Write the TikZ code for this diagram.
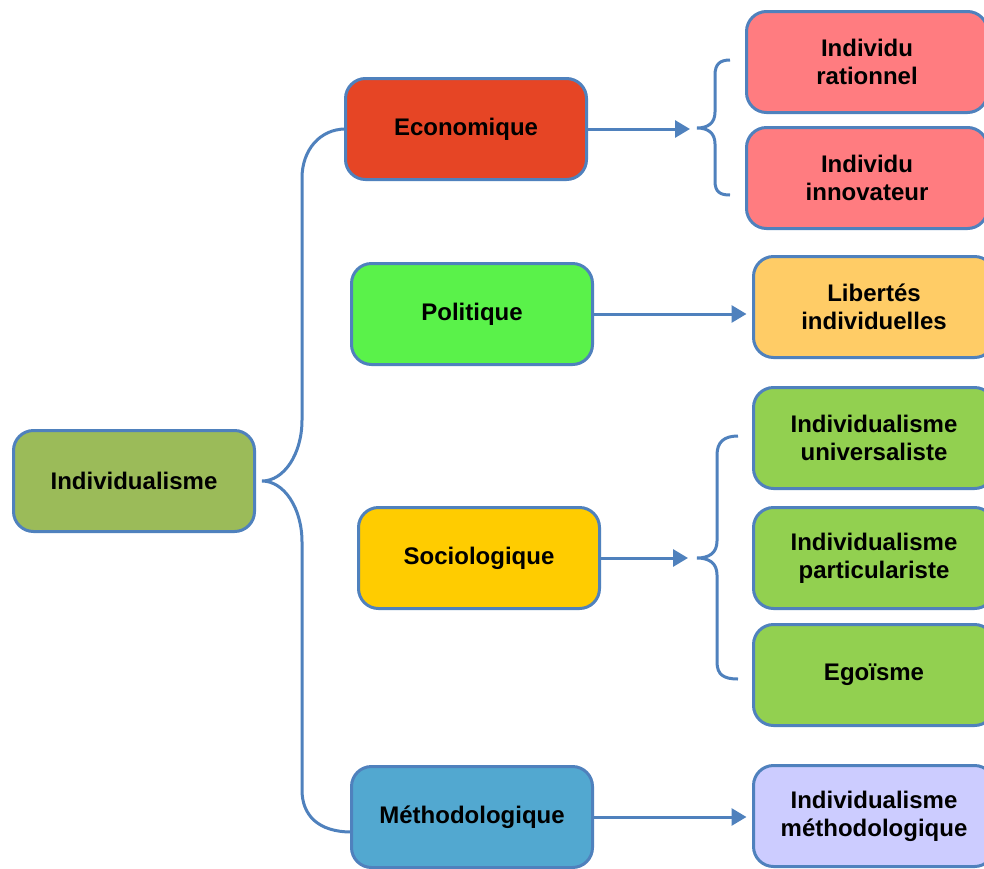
\documentclass[tikz,border=0pt]{standalone}
\usepackage{fontspec}
\setmainfont{Liberation Sans}
\usetikzlibrary{arrows.meta}
\definecolor{edgeblue}{HTML}{4F81BD}
\definecolor{cInd}{HTML}{9BBB59}
\definecolor{cEco}{HTML}{E64525}
\definecolor{cPol}{HTML}{5AF24A}
\definecolor{cSoc}{HTML}{FFCC00}
\definecolor{cMet}{HTML}{52A8D0}
\definecolor{cRed}{HTML}{FF7C80}
\definecolor{cLib}{HTML}{FFCC66}
\definecolor{cGreen}{HTML}{92D050}
\definecolor{cLav}{HTML}{CCCCFF}
\tikzset{
  box/.style={draw=edgeblue, line width=3pt, rounded corners=20pt,
    minimum width=241pt, minimum height=101pt, align=center,
    inner sep=0pt, outer sep=0pt,
    font=\fontsize{24}{28}\selectfont\bfseries, text=black},
  conn/.style={draw=edgeblue, line width=3pt},
  arr/.style={conn, -{Triangle[length=15pt,width=17pt]}},
}
\begin{document}
\begin{tikzpicture}[x=1pt,y=-1pt]
\useasboundingbox (0,0) rectangle (984,868);
\clip (0,0) rectangle (984,868);
\fill[white] (0,0) rectangle (984,868);

\node[box, fill=cInd] (ind) at (134,481) {Individualisme};
\node[box, fill=cEco] (eco) at (466,129) {Economique};
\node[box, fill=cPol] (pol) at (472,314) {Politique};
\node[box, fill=cSoc] (soc) at (479,558) {Sociologique};
\node[box, fill=cMet] (met) at (472,817) {Méthodologique};

\node[box, fill=cRed] (r1) at (867,62) {Individu\\rationnel};
\node[box, fill=cRed] (r2) at (867,178) {Individu\\innovateur};
\node[box, fill=cLib] (lib) at (874,307) {Libertés\\individuelles};
\node[box, fill=cGreen] (u1) at (874,438) {Individualisme\\universaliste};
\node[box, fill=cGreen] (u2) at (874,558) {Individualisme\\particulariste};
\node[box, fill=cGreen] (ego) at (874,675) {Egoïsme};
\node[box, fill=cLav] (im) at (874,816) {Individualisme\\méthodologique};

% big brace
\coordinate (bt) at (262,481);
\draw[conn] (eco.west) .. controls (320,129) and (302,150) .. (302,178)
  -- (302,420) .. controls (302,454) and (284,481) .. (bt)
  .. controls (284,481) and (302,508) .. (302,542)
  -- (302,790) .. controls (302,815) and (318,832) .. ([yshift=-15pt]met.west);

% arrows
\coordinate (ea) at (690,129);
\coordinate (sa) at (688,558);
\draw[arr] (eco.east) -- (ea);
\draw[arr] (soc.east) -- (sa);
\draw[arr, shorten >=7pt] (pol.east) -- (pol.east -| lib.west);
\draw[arr, shorten >=7pt] (met.east) -- (met.east -| im.west);

% small brace economique
\coordinate (eb) at (697,128);
\draw[conn] (730,60) .. controls (720,60) and (715,64) .. (715,75)
  -- (715,112) .. controls (715,123) and (708,128) .. (eb)
  .. controls (708,128) and (715,133) .. (715,144)
  -- (715,181) .. controls (715,192) and (720,195) .. (730,195);

% small brace sociologique
\coordinate (sb) at (697,558);
\draw[conn] (738,436) .. controls (724,436) and (717,442) .. (717,455)
  -- (717,541) .. controls (717,553) and (709,558) .. (sb)
  .. controls (709,558) and (717,563) .. (717,575)
  -- (717,662) .. controls (717,675) and (724,679) .. (738,679);
\end{tikzpicture}
\end{document}
